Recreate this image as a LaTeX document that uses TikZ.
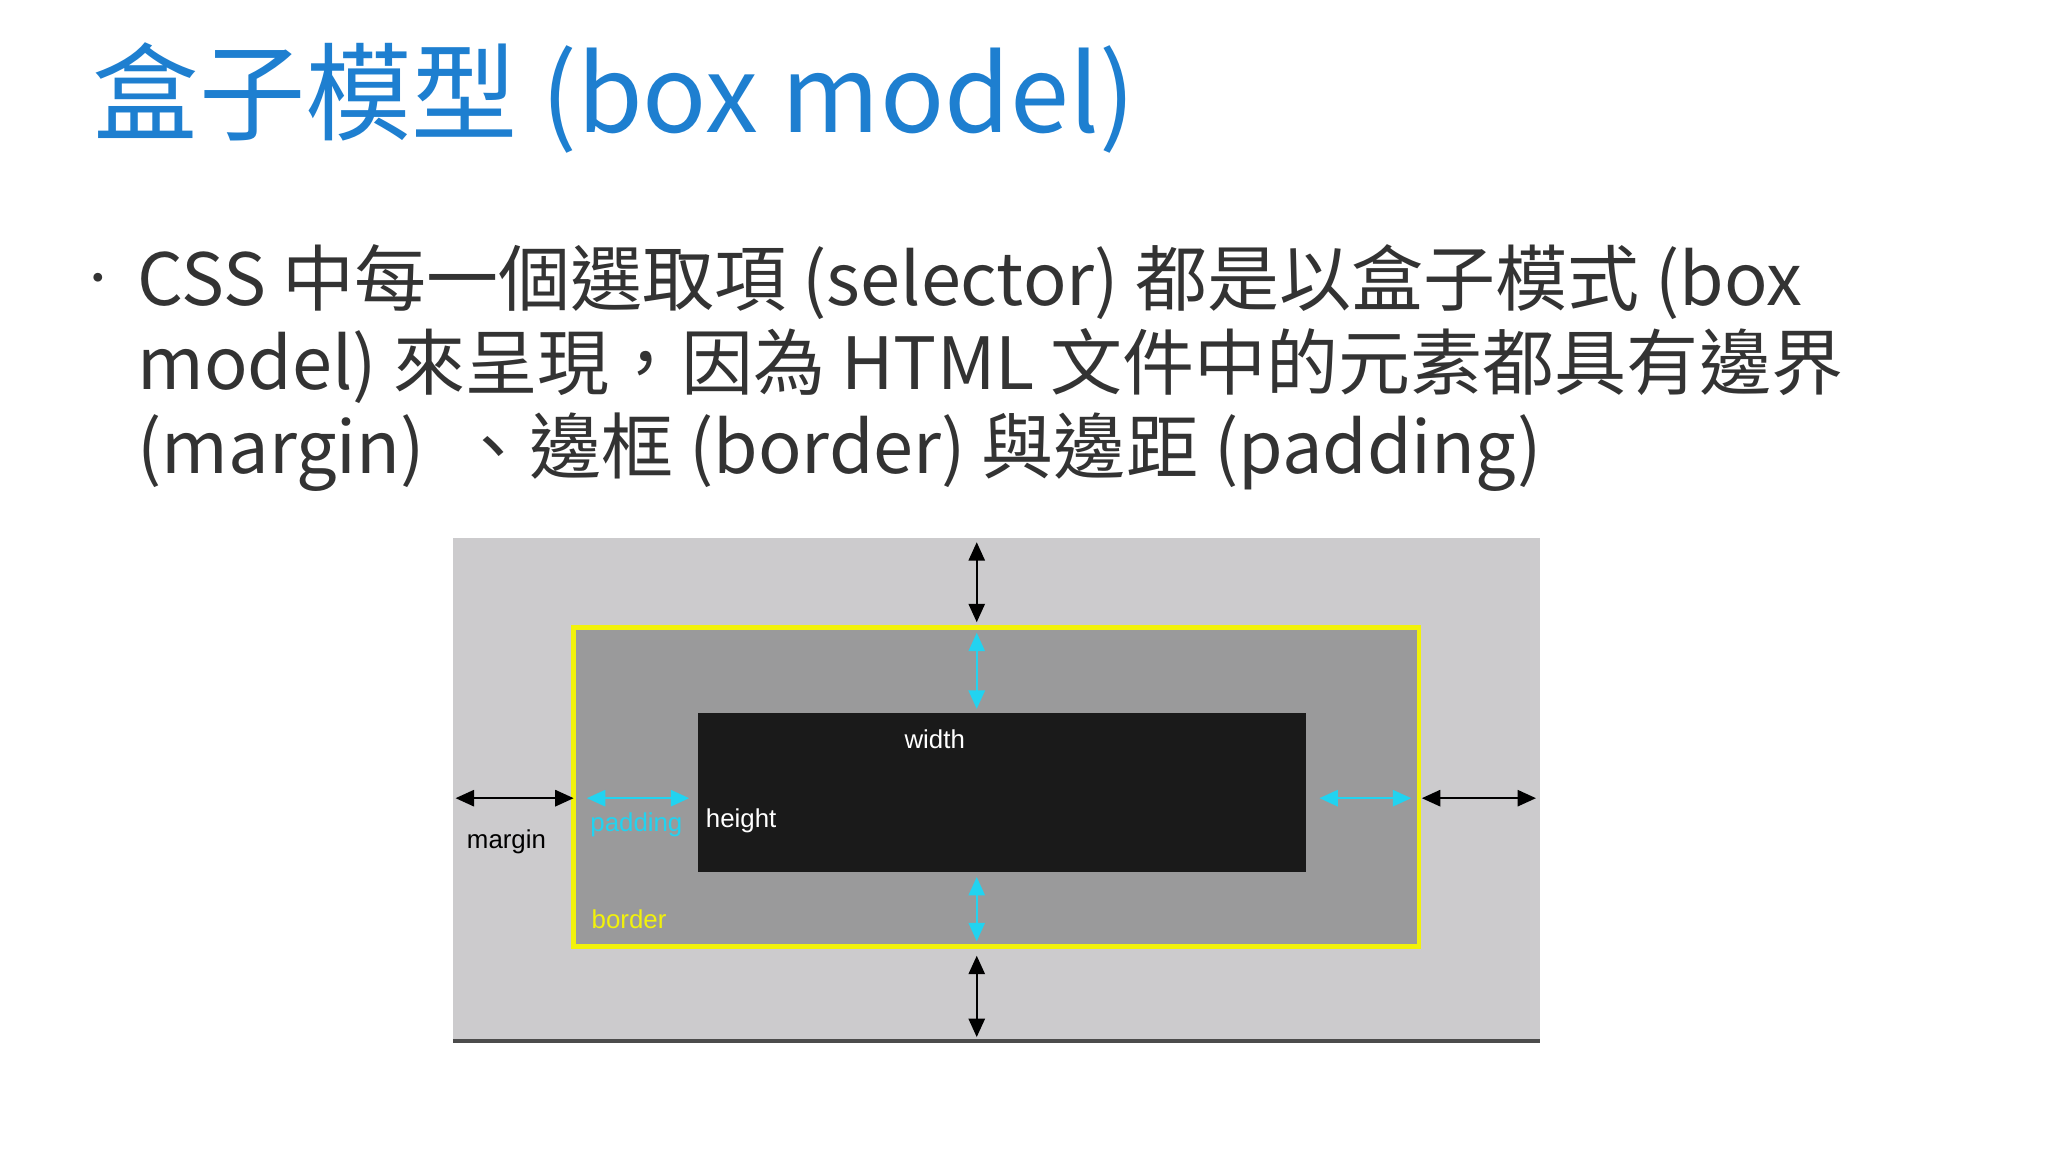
\documentclass[tikz,border=0pt]{standalone}
\usepackage{fontspec}
\setmainfont{Noto Sans CJK TC}
\setsansfont{Liberation Sans}
\usetikzlibrary{arrows.meta}
\definecolor{titleblue}{HTML}{1E7FD0}
\definecolor{bodygray}{HTML}{333333}
\definecolor{cyanarr}{HTML}{22D3F0}
\definecolor{yel}{HTML}{F2F20A}
\tikzset{
  blk/.style={{Triangle[length=4pt,width=3.5pt]}-{Triangle[length=4pt,width=3.5pt]}, black, line width=0.5pt},
  cyn/.style={{Triangle[length=4pt,width=3.5pt]}-{Triangle[length=4pt,width=3.5pt]}, cyanarr, line width=0.5pt},
  lbl/.style={font=\sffamily\fontsize{5.6}{7}\selectfont, inner sep=0pt},
  bodytxt/.style={font=\fontsize{15.6}{18}\selectfont, text=bodygray, anchor=base west, inner sep=0pt}
}
\begin{document}
\begin{tikzpicture}[x=0.01cm,y=-0.01cm]
\useasboundingbox[fill=white] (0,0) rectangle (1560,877);
\node[font=\fontsize{23}{28}\selectfont, text=titleblue, anchor=base west, inner sep=0pt] (title) at (70,101) {盒子模型 (box model)};
\node[font=\fontsize{9}{10}\selectfont, text=bodygray, inner sep=0pt] (bul) at (75,216) {•};
\node[bodytxt] (l1) at (104,233) {CSS 中每一個選取項 (selector) 都是以盒子模式 (box};
\node[bodytxt] (l2) at (104,297) {model) 來呈現，因為 HTML 文件中的元素都具有邊界};
\node[bodytxt] (l3) at (104,361) {(margin) \ 、邊框 (border) 與邊距 (padding)};
\fill[fill={rgb,255:red,204;green,203;blue,205}] (345,410) rectangle (1173,793);
\draw[line width=0.8pt, black!70] (345,793) -- (1173,793);
\draw[yel, line width=1pt, fill={rgb,255:red,154;green,154;blue,155}] (437,478) rectangle (1081,721);
\fill[fill={rgb,255:red,26;green,26;blue,26}] (532,543) rectangle (995,664);
\coordinate (t1) at (744,413); \coordinate (t2) at (744,474);
\coordinate (b1) at (744,728); \coordinate (b2) at (744,790);
\coordinate (ct1) at (744,482); \coordinate (ct2) at (744,540);
\coordinate (cb1) at (744,668); \coordinate (cb2) at (744,717);
\coordinate (ml1) at (347,608); \coordinate (ml2) at (437,608);
\coordinate (pl1) at (447,608); \coordinate (pl2) at (525,608);
\coordinate (pr1) at (1005,608); \coordinate (pr2) at (1075,608);
\coordinate (mr1) at (1083,608); \coordinate (mr2) at (1170,608);
\draw[blk] (t1) -- (t2);
\draw[blk] (b1) -- (b2);
\draw[cyn] (ct1) -- (ct2);
\draw[cyn] (cb1) -- (cb2);
\draw[blk] (ml1) -- (ml2);
\draw[cyn] (pl1) -- (pl2);
\draw[cyn] (pr1) -- (pr2);
\draw[blk] (mr1) -- (mr2);
\node[lbl, text=white] (w) at (712,563) {width};
\node[lbl, text=white, anchor=west] (h) at (537,625) {height};
\node[lbl, text=cyanarr, anchor=west] (p) at (449,628) {padding};
\node[lbl, text=black, anchor=west] (m) at (355,641) {margin};
\node[lbl, text=yel, anchor=west] (bd) at (450,700) {border};
\end{tikzpicture}
\end{document}
